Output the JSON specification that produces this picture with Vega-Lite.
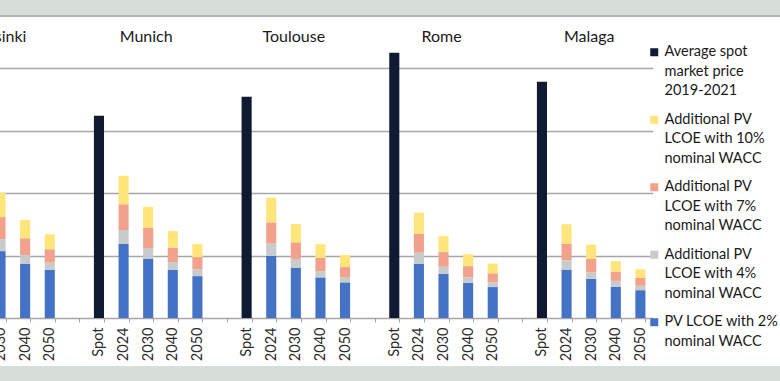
{
  "$schema": "https://vega.github.io/schema/vega-lite/v6.json",
  "width": 780,
  "height": 381,
  "autosize": {"type": "none"},
  "padding": 0,
  "background": "#d7ded8",
  "config": {"view": {"stroke": null, "fill": "white"}, "font": "Lato"},
  "datasets": {
    "bars": [
      {"city": "Helsinki", "period": "Spot", "wacc": 0, "value": 52},
      {"city": "Helsinki", "period": "2024", "wacc": 2, "value": 25.5},
      {"city": "Helsinki", "period": "2024", "wacc": 4, "value": 4.6},
      {"city": "Helsinki", "period": "2024", "wacc": 7, "value": 8.6},
      {"city": "Helsinki", "period": "2024", "wacc": 10, "value": 9.5},
      {"city": "Helsinki", "period": "2030", "wacc": 2, "value": 21.4},
      {"city": "Helsinki", "period": "2030", "wacc": 4, "value": 3.8},
      {"city": "Helsinki", "period": "2030", "wacc": 7, "value": 7.1},
      {"city": "Helsinki", "period": "2030", "wacc": 10, "value": 7.8},
      {"city": "Helsinki", "period": "2040", "wacc": 2, "value": 17.3},
      {"city": "Helsinki", "period": "2040", "wacc": 4, "value": 2.9},
      {"city": "Helsinki", "period": "2040", "wacc": 7, "value": 5.3},
      {"city": "Helsinki", "period": "2040", "wacc": 10, "value": 5.9},
      {"city": "Helsinki", "period": "2050", "wacc": 2, "value": 15.4},
      {"city": "Helsinki", "period": "2050", "wacc": 4, "value": 2.3},
      {"city": "Helsinki", "period": "2050", "wacc": 7, "value": 4.3},
      {"city": "Helsinki", "period": "2050", "wacc": 10, "value": 4.8},
      {"city": "Munich", "period": "Spot", "wacc": 0, "value": 64.7},
      {"city": "Munich", "period": "2024", "wacc": 2, "value": 23.7},
      {"city": "Munich", "period": "2024", "wacc": 4, "value": 4.5},
      {"city": "Munich", "period": "2024", "wacc": 7, "value": 8.2},
      {"city": "Munich", "period": "2024", "wacc": 10, "value": 9.1},
      {"city": "Munich", "period": "2030", "wacc": 2, "value": 19.0},
      {"city": "Munich", "period": "2030", "wacc": 4, "value": 3.4},
      {"city": "Munich", "period": "2030", "wacc": 7, "value": 6.4},
      {"city": "Munich", "period": "2030", "wacc": 10, "value": 6.8},
      {"city": "Munich", "period": "2040", "wacc": 2, "value": 15.4},
      {"city": "Munich", "period": "2040", "wacc": 4, "value": 2.5},
      {"city": "Munich", "period": "2040", "wacc": 7, "value": 4.6},
      {"city": "Munich", "period": "2040", "wacc": 10, "value": 5.3},
      {"city": "Munich", "period": "2050", "wacc": 2, "value": 13.4},
      {"city": "Munich", "period": "2050", "wacc": 4, "value": 2.2},
      {"city": "Munich", "period": "2050", "wacc": 7, "value": 3.9},
      {"city": "Munich", "period": "2050", "wacc": 10, "value": 4.2},
      {"city": "Toulouse", "period": "Spot", "wacc": 0, "value": 70.8},
      {"city": "Toulouse", "period": "2024", "wacc": 2, "value": 19.9},
      {"city": "Toulouse", "period": "2024", "wacc": 4, "value": 3.9},
      {"city": "Toulouse", "period": "2024", "wacc": 7, "value": 6.8},
      {"city": "Toulouse", "period": "2024", "wacc": 10, "value": 7.9},
      {"city": "Toulouse", "period": "2030", "wacc": 2, "value": 16.0},
      {"city": "Toulouse", "period": "2030", "wacc": 4, "value": 2.9},
      {"city": "Toulouse", "period": "2030", "wacc": 7, "value": 5.3},
      {"city": "Toulouse", "period": "2030", "wacc": 10, "value": 5.9},
      {"city": "Toulouse", "period": "2040", "wacc": 2, "value": 13.0},
      {"city": "Toulouse", "period": "2040", "wacc": 4, "value": 2.0},
      {"city": "Toulouse", "period": "2040", "wacc": 7, "value": 4.2},
      {"city": "Toulouse", "period": "2040", "wacc": 10, "value": 4.5},
      {"city": "Toulouse", "period": "2050", "wacc": 2, "value": 11.4},
      {"city": "Toulouse", "period": "2050", "wacc": 4, "value": 1.7},
      {"city": "Toulouse", "period": "2050", "wacc": 7, "value": 3.2},
      {"city": "Toulouse", "period": "2050", "wacc": 10, "value": 3.8},
      {"city": "Rome", "period": "Spot", "wacc": 0, "value": 84.9},
      {"city": "Rome", "period": "2024", "wacc": 2, "value": 17.4},
      {"city": "Rome", "period": "2024", "wacc": 4, "value": 3.5},
      {"city": "Rome", "period": "2024", "wacc": 7, "value": 6.0},
      {"city": "Rome", "period": "2024", "wacc": 10, "value": 6.8},
      {"city": "Rome", "period": "2030", "wacc": 2, "value": 14.1},
      {"city": "Rome", "period": "2030", "wacc": 4, "value": 2.3},
      {"city": "Rome", "period": "2030", "wacc": 7, "value": 4.7},
      {"city": "Rome", "period": "2030", "wacc": 10, "value": 5.1},
      {"city": "Rome", "period": "2040", "wacc": 2, "value": 11.3},
      {"city": "Rome", "period": "2040", "wacc": 4, "value": 1.7},
      {"city": "Rome", "period": "2040", "wacc": 7, "value": 3.6},
      {"city": "Rome", "period": "2040", "wacc": 10, "value": 3.8},
      {"city": "Rome", "period": "2050", "wacc": 2, "value": 9.9},
      {"city": "Rome", "period": "2050", "wacc": 4, "value": 1.5},
      {"city": "Rome", "period": "2050", "wacc": 7, "value": 2.9},
      {"city": "Rome", "period": "2050", "wacc": 10, "value": 3.1},
      {"city": "Malaga", "period": "Spot", "wacc": 0, "value": 75.6},
      {"city": "Malaga", "period": "2024", "wacc": 2, "value": 15.5},
      {"city": "Malaga", "period": "2024", "wacc": 4, "value": 3.0},
      {"city": "Malaga", "period": "2024", "wacc": 7, "value": 5.3},
      {"city": "Malaga", "period": "2024", "wacc": 10, "value": 6.2},
      {"city": "Malaga", "period": "2030", "wacc": 2, "value": 12.5},
      {"city": "Malaga", "period": "2030", "wacc": 4, "value": 2.1},
      {"city": "Malaga", "period": "2030", "wacc": 7, "value": 4.3},
      {"city": "Malaga", "period": "2030", "wacc": 10, "value": 4.6},
      {"city": "Malaga", "period": "2040", "wacc": 2, "value": 10.0},
      {"city": "Malaga", "period": "2040", "wacc": 4, "value": 1.9},
      {"city": "Malaga", "period": "2040", "wacc": 7, "value": 2.9},
      {"city": "Malaga", "period": "2040", "wacc": 10, "value": 3.4},
      {"city": "Malaga", "period": "2050", "wacc": 2, "value": 8.9},
      {"city": "Malaga", "period": "2050", "wacc": 4, "value": 1.4},
      {"city": "Malaga", "period": "2050", "wacc": 7, "value": 2.5},
      {"city": "Malaga", "period": "2050", "wacc": 10, "value": 2.8}
    ],
    "cities": [
      {"city": "Helsinki"}, {"city": "Munich"}, {"city": "Toulouse"}, {"city": "Rome"}, {"city": "Malaga"}
    ]
  },
  "layer": [
    {
      "data": {"name": "bars"},
      "transform": [{"calculate": "datum.city + '|' + datum.period", "as": "slot"}],
      "mark": {"type": "bar"},
      "encoding": {
        "x": {
          "field": "slot", "type": "nominal",
          "scale": {
            "domain": ["Helsinki|Spot", "Helsinki|2024", "Helsinki|2030", "Helsinki|2040", "Helsinki|2050", "gap1",
                       "Munich|Spot", "Munich|2024", "Munich|2030", "Munich|2040", "Munich|2050", "gap2",
                       "Toulouse|Spot", "Toulouse|2024", "Toulouse|2030", "Toulouse|2040", "Toulouse|2050", "gap3",
                       "Rome|Spot", "Rome|2024", "Rome|2030", "Rome|2040", "Rome|2050", "gap4",
                       "Malaga|Spot", "Malaga|2024", "Malaga|2030", "Malaga|2040", "Malaga|2050"],
            "range": [-61, 652.7],
            "paddingInner": 0.59,
            "paddingOuter": 0.295
          },
          "axis": {
            "title": null,
            "labelExpr": "indexof(datum.label, '|') >= 0 ? split(datum.label, '|')[1] : ''",
            "labelAngle": 270,
            "labelAlign": "right",
            "labelBaseline": "middle",
            "labelFontSize": 14.5,
            "labelFont": "Lato",
            "labelColor": "#2b2b2b",
            "labelPadding": 5,
            "tickBand": "extent",
            "tickSize": 4,
            "tickColor": "#a6a6a6",
            "domainColor": "#a6a6a6",
            "domainWidth": 1.5,
            "offset": -63
          }
        },
        "y": {
          "field": "value", "type": "quantitative", "stack": "zero",
          "scale": {"domain": [-20.16, 101.76], "nice": false, "zero": false},
          "axis": {
            "title": null, "values": [20, 40, 60, 80], "labels": false, "ticks": false,
            "domain": false, "grid": true, "gridColor": "#a6a6a6", "gridWidth": 1.3
          }
        },
        "color": {
          "field": "wacc", "type": "nominal",
          "scale": {"domain": [0, 10, 7, 4, 2], "range": ["#111a33", "#ffe57a", "#f2a18c", "#c8cbcc", "#4472c4"]},
          "legend": {
            "title": null,
            "orient": "none",
            "legendX": 647,
            "legendY": 45,
            "padding": 0,
            "symbolType": "square",
            "symbolSize": 64,
            "symbolStrokeWidth": 0,
            "labelFontSize": 14.5,
            "labelFont": "Lato",
            "labelColor": "#1a1a1a",
            "labelLimit": 300,
            "labelOffset": 3,
            "rowPadding": 13.5,
            "encode": {"labels": {"update": {"lineHeight": {"value": 19.5}}}},
            "labelExpr": "datum.value == 0 ? ['Average spot', 'market price', '2019-2021'] : (datum.value == 2 ? ['PV LCOE with 2%', 'nominal WACC'] : ['Additional PV', 'LCOE with ' + datum.label + '%', 'nominal WACC'])"
          }
        },
        "order": {"field": "wacc", "type": "quantitative", "sort": "ascending"}
      }
    },
    {
      "data": {"values": [{}]},
      "mark": {"type": "rect", "color": "#d7ded8"},
      "encoding": {"y": {"datum": 101.76, "type": "quantitative"}, "y2": {"datum": 96.32}}
    },
    {
      "data": {"values": [{}]},
      "mark": {"type": "rect", "color": "#d7ded8"},
      "encoding": {"y": {"datum": -15.36, "type": "quantitative"}, "y2": {"datum": -20.16}}
    },
    {
      "data": {"values": [{}]},
      "mark": {"type": "rule", "color": "#8c8c8c", "strokeWidth": 1.2},
      "encoding": {"y": {"datum": 96.64, "type": "quantitative"}}
    },
    {
      "data": {"name": "cities"},
      "transform": [{"calculate": "datum.city + '|2030'", "as": "slot"}],
      "mark": {"type": "text", "fontSize": 16, "font": "Lato", "color": "#1a1a1a", "baseline": "middle", "dx": -2},
      "encoding": {
        "x": {"field": "slot", "type": "nominal"},
        "y": {"datum": 90, "type": "quantitative"},
        "text": {"field": "city"}
      }
    }
  ]
}
